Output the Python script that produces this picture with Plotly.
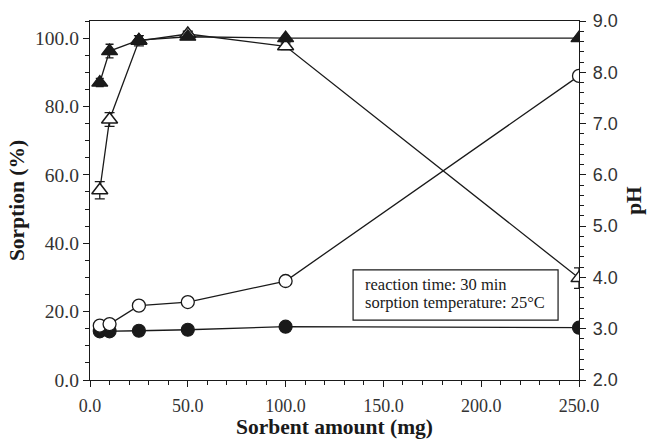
import plotly.graph_objects as go

# Data
sorbent = [5, 10, 25, 50, 100, 250]
sorption_filled = [87.0, 96.2, 99.4, 100.4, 100.0, 100.0]
err_filled = [1.2, 2.0, 1.0, 0.5, 0.5, 0.5]
sorption_open = [55.5, 76.2, 99.2, 101.2, 97.6, 29.8]
err_open = [2.5, 2.0, 1.5, 0.8, 1.0, 3.0]
ph_open = [3.06, 3.09, 3.45, 3.52, 3.93, 7.93]
ph_filled = [2.95, 2.95, 2.96, 2.98, 3.04, 3.02]
note_lines = ["reaction time: 30 min", "sorption temperature: 25°C"]

serif = "Liberation Serif"
sans = "Liberation Sans"
ink = "#1a1a1a"

fig = go.Figure()

fig.add_trace(go.Scatter(
    x=sorbent, y=ph_filled, yaxis="y2", mode="lines+markers",
    line=dict(color=ink, width=1.3),
    marker=dict(symbol="circle", size=13, color=ink, line=dict(color=ink, width=1.2)),
))
fig.add_trace(go.Scatter(
    x=sorbent, y=ph_open, yaxis="y2", mode="lines+markers",
    line=dict(color=ink, width=1.3),
    marker=dict(symbol="circle", size=13, color="white", line=dict(color=ink, width=1.3)),
))
fig.add_trace(go.Scatter(
    x=sorbent, y=sorption_open, mode="lines+markers",
    line=dict(color=ink, width=1.3),
    error_y=dict(type="data", array=err_open, color=ink, thickness=1.3, width=5),
    marker=dict(symbol="triangle-up", size=14, color="white", line=dict(color=ink, width=1.5)),
))
fig.add_trace(go.Scatter(
    x=sorbent, y=sorption_filled, mode="lines+markers",
    line=dict(color=ink, width=1.3),
    error_y=dict(type="data", array=err_filled, color=ink, thickness=1.3, width=4),
    marker=dict(symbol="triangle-up", size=14, color=ink, line=dict(color=ink, width=1.2)),
))

# note box
fig.add_shape(type="rect", xref="x", yref="y", x0=134.5, x1=239.3, y0=17.5, y1=32.2,
              line=dict(color=ink, width=1.2), fillcolor="white", layer="above")
for txt, yy in zip(note_lines, [27.9, 22.6]):
    fig.add_annotation(
        x=139.5, y=yy, xref="x", yref="y", xanchor="left", yanchor="middle",
        text=txt, showarrow=False, align="left",
        font=dict(family=serif, size=16.5, color=ink),
    )

fig.update_layout(
    width=649, height=439,
    margin=dict(l=90, r=70, t=21, b=59),
    paper_bgcolor="white", plot_bgcolor="white",
    showlegend=False,
    xaxis=dict(
        range=[0, 250], tickvals=[0, 50, 100, 150, 200, 250],
        ticktext=["0.0", "50.0", "100.0", "150.0", "200.0", "250.0"],
        automargin=False, ticklabelstandoff=3,
        showgrid=False, zeroline=False, showline=True, linecolor=ink, linewidth=1.3,
        mirror=True, ticks="outside", ticklen=6, tickcolor=ink, tickwidth=1.2,
        minor=dict(dtick=10, ticks="outside", ticklen=4, tickcolor=ink, tickwidth=1),
        tickfont=dict(family=serif, size=18, color="#333"),
        title=dict(text="<b>Sorbent amount (mg)</b>", font=dict(family=serif, size=21.5, color=ink), standoff=5),
    ),
    yaxis=dict(
        range=[0, 105], tickvals=[0, 20, 40, 60, 80, 100],
        ticktext=["0.0", "20.0", "40.0", "60.0", "80.0", "100.0"],
        automargin=False,
        showgrid=False, zeroline=False, showline=True, linecolor=ink, linewidth=1.3,
        ticks="outside", ticklen=6, tickcolor=ink, tickwidth=1.2,
        minor=dict(dtick=5, ticks="outside", ticklen=4, tickcolor=ink, tickwidth=1),
        tickfont=dict(family=serif, size=19.5, color="#333"),
        title=dict(text="<b>Sorption (%)</b>", font=dict(family=serif, size=21.5, color=ink), standoff=4),
    ),
    yaxis2=dict(
        overlaying="y", side="right", anchor="x",
        range=[2, 9], tickvals=[2, 3, 4, 5, 6, 7, 8, 9],
        ticktext=["2.0", "3.0", "4.0", "5.0", "6.0", "7.0", "8.0", "9.0"],
        automargin=False, ticklabelstandoff=3,
        showgrid=False, zeroline=False, showline=True, linecolor=ink, linewidth=1.3,
        ticks="outside", ticklen=6, tickcolor=ink, tickwidth=1.2,
        minor=dict(dtick=0.2, ticks="outside", ticklen=4, tickcolor=ink, tickwidth=1),
        tickfont=dict(family=sans, size=18, color="#333"),
        title=dict(text="<b>pH</b>", font=dict(family=serif, size=21.5, color=ink), standoff=9),
    ),
)

fig.write_html("out.html")
